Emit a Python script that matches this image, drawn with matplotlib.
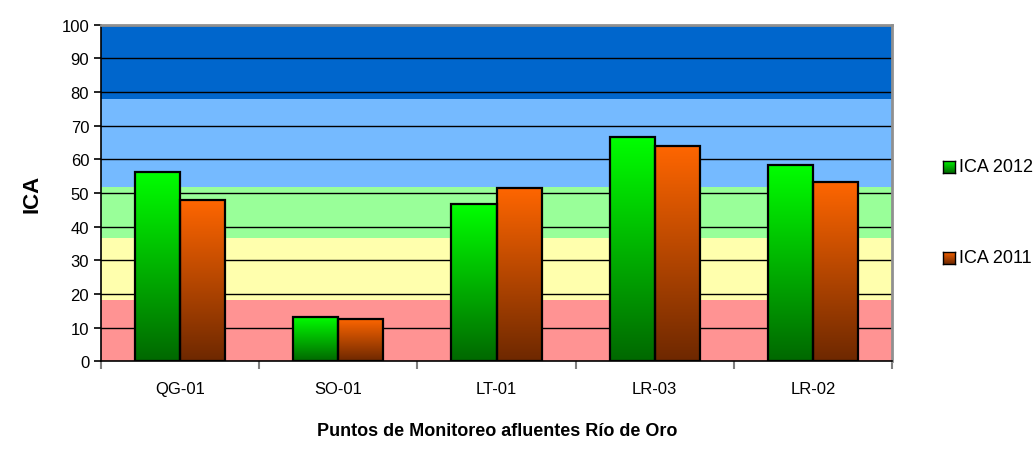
import numpy as np
import matplotlib
matplotlib.use('Agg')
import matplotlib.pyplot as plt
from matplotlib.colors import LinearSegmentedColormap
from matplotlib.patches import Rectangle

plt.rcParams['font.family'] = ['Liberation Sans', 'DejaVu Sans']

# datos
puntos = ['QG-01', 'SO-01', 'LT-01', 'LR-03', 'LR-02']
ica_2012 = [56.2, 13.3, 46.6, 66.7, 58.4]
ica_2011 = [47.8, 12.7, 51.5, 64.0, 53.4]

# bandas de calidad (limites y colores)
bandas_lim = [0, 18.3, 36.7, 51.7, 77.9, 100]
bandas_col = ['#FF9393', '#FFFFAD', '#99FF99', '#75BAFF', '#0066CC']

cm_verde = LinearSegmentedColormap.from_list('v', ['#006800', '#00FF00'])
cm_naranja = LinearSegmentedColormap.from_list('n', ['#6E2800', '#FF6600'])

fig = plt.figure(figsize=(10.33, 4.64), dpi=100)
ax = fig.add_axes([0.0978, 0.219, 0.7657, 0.7256])

for i in range(len(bandas_col)):
    ax.axhspan(bandas_lim[i], bandas_lim[i+1], color=bandas_col[i], lw=0, zorder=0)

for y in range(10, 101, 10):
    ax.axhline(y, color='black', lw=1.0, zorder=1)

grad = np.linspace(0, 1, 256).reshape(-1, 1)
ancho = 0.285
x = np.arange(len(puntos))

def barra(x0, h, cmap):
    ax.imshow(grad, cmap=cmap, origin='lower', aspect='auto',
              extent=(x0, x0 + ancho, 0, h), zorder=2)
    ax.add_patch(Rectangle((x0, 0), ancho, h, fill=False, ec='black', lw=1.6, zorder=3))

for i in range(len(puntos)):
    barra(x[i] - ancho, ica_2012[i], cm_verde)
    barra(x[i], ica_2011[i], cm_naranja)

ax.set_xlim(-0.5, len(puntos) - 0.5)
ax.set_ylim(0, 100)
ax.set_yticks(range(0, 101, 10))
ax.set_xticks(x)
ax.set_xticklabels(puntos)
ax.set_xticks(np.arange(-0.5, len(puntos), 1), minor=True)
ax.tick_params(axis='x', which='major', length=0, pad=14, labelsize=12)
ax.tick_params(axis='x', which='minor', length=6, color='#808080', width=1.5)
ax.tick_params(axis='y', length=5, width=1.2, labelsize=12)

for s in ['top', 'right']:
    ax.spines[s].set_color('#909090')
    ax.spines[s].set_linewidth(2)
ax.spines['left'].set_linewidth(1.2)
ax.spines['bottom'].set_linewidth(1.2)

ax.set_ylabel('ICA', fontsize=16, fontweight='bold', labelpad=14)
fig.text(0.4815, 0.06, 'Puntos de Monitoreo afluentes Río de Oro', ha='center',
         fontsize=13, fontweight='bold')

# leyenda
for yy, lab, cmap in [(0.638, 'ICA 2012', cm_verde), (0.442, 'ICA 2011', cm_naranja)]:
    lax = fig.add_axes([0.9125, yy - 0.0135, 0.0116, 0.026])
    lax.imshow(grad, cmap=cmap, origin='lower', aspect='auto')
    lax.set_xticks([])
    lax.set_yticks([])
    for s in lax.spines.values():
        s.set_linewidth(1)
    fig.text(0.9285, yy, lab, va='center', fontsize=13)

plt.savefig('out.png', dpi=100)
